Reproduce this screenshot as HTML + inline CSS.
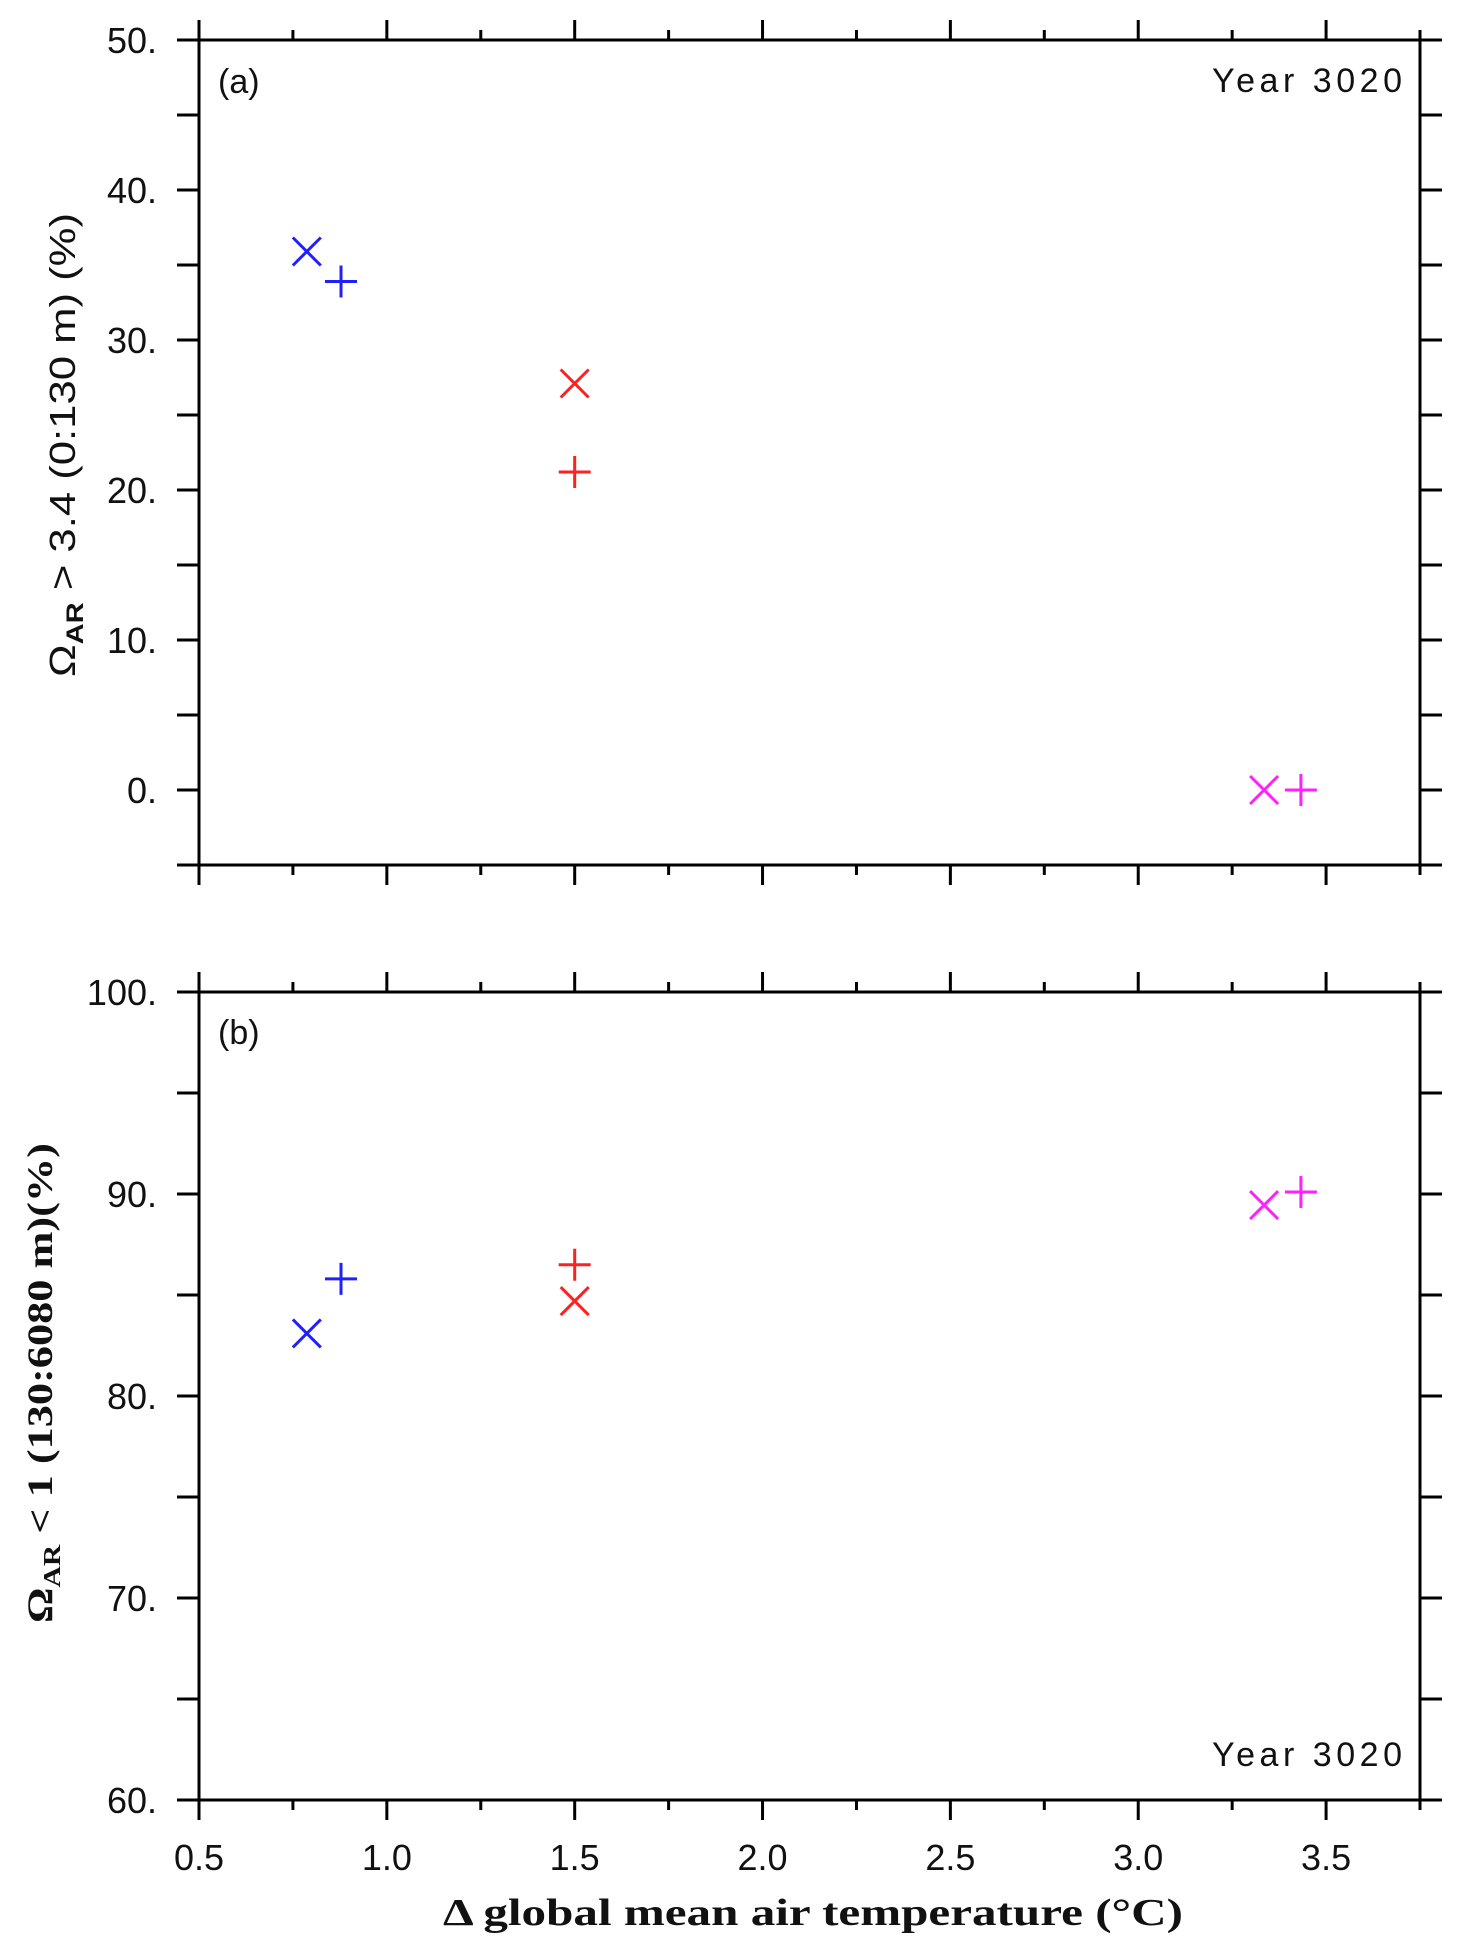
<!DOCTYPE html>
<html><head><meta charset="utf-8"><style>
html,body{margin:0;padding:0;background:#fff;}
svg{display:block;}
</style></head><body>
<svg id="chart" width="1461" height="1950" viewBox="0 0 1461 1950" xmlns="http://www.w3.org/2000/svg"></svg>
<script>
// Shared x data
const xTicks = [0.5,1.0,1.5,2.0,2.5,3.0,3.5];
const xTickLabels = ["0.5","1.0","1.5","2.0","2.5","3.0","3.5"];
// Panel a data
const aYTicks = [0,10,20,30,40,50];
const aYTickLabels = ["0.","10.","20.","30.","40.","50."];
const aCrossX = [0.787, 1.5, 3.335];
const aCrossY = [35.9, 27.1, 0.0];
const aPlusX = [0.878, 1.5, 3.433];
const aPlusY = [33.9, 21.2, 0.0];
// Panel b data
const bYTicks = [60,70,80,90,100];
const bYTickLabels = ["60.","70.","80.","90.","100."];
const bCrossX = [0.787, 1.5, 3.335];
const bCrossY = [83.1, 84.7, 89.45];
const bPlusX = [0.878, 1.5, 3.433];
const bPlusY = [85.8, 86.5, 90.1];
const seriesColors = ["#2020ff","#ff2020","#ff20ff"];

const svg = document.getElementById('chart');
const NS = "http://www.w3.org/2000/svg";
function mk(tag, attrs, parent){const e=document.createElementNS(NS,tag);for(const k in attrs)e.setAttribute(k,attrs[k]);(parent||svg).appendChild(e);return e;}

const X0=199, X1=1420, xmin=0.5, xmax=3.75;
function xs(v){return X0+(v-xmin)/(xmax-xmin)*(X1-X0);}

function panel(name, top, bottom, ymin, ymax, yTicks, yLabels, minorStep, cx, cy, px, py, showXLabels){
  const g = mk('g',{});
  
  
  const ys = v => bottom-(v-ymin)/(ymax-ymin)*(bottom-top);
  const frame = mk('rect',{x:X0,y:top,width:X1-X0,height:bottom-top,fill:'none',stroke:'#000','stroke-width':3},g);
  
  
  for(let v=ymin; v<=ymax+1e-9; v+=minorStep){
    const y=ys(v);
    const t1=mk('line',{x1:X0-22,x2:X0,y1:y,y2:y,stroke:'#000','stroke-width':3},g);
    
    
    const t2=mk('line',{x1:X1,x2:X1+22,y1:y,y2:y,stroke:'#000','stroke-width':3},g);
    
    
  }
  yTicks.forEach((v,i)=>{
    const t=mk('text',{x:157,y:ys(v)+13,'text-anchor':'end','font-family':'Liberation Sans, sans-serif','font-size':36,fill:'#111'},g);
    t.textContent=yLabels[i];
    
    
  });
  for(let v=0.5; v<=3.75+1e-9; v+=0.25){
    const major = Math.abs(v*2-Math.round(v*2))<1e-6;
    const L = major?20:10, x=xs(v);
    const t1=mk('line',{x1:x,x2:x,y1:top-L,y2:top,stroke:'#000','stroke-width':3},g);
    
    
    const t2=mk('line',{x1:x,x2:x,y1:bottom,y2:bottom+L,stroke:'#000','stroke-width':3},g);
    
    
  }
  if(showXLabels){
    xTicks.forEach((v,i)=>{
      const t=mk('text',{x:xs(v),y:bottom+70,'text-anchor':'middle','font-family':'Liberation Sans, sans-serif','font-size':36,fill:'#111'},g);
      t.textContent=xTickLabels[i];
      
      
    });
  }
  const s=14;
  cx.forEach((v,i)=>{
    const x=xs(v), y=ys(cy[i]);
    const m=mk('path',{d:`M${x-s},${y-s}L${x+s},${y+s}M${x-s},${y+s}L${x+s},${y-s}`,stroke:seriesColors[i],'stroke-width':3,fill:'none'},g);
    
    
  });
  px.forEach((v,i)=>{
    const x=xs(v), y=ys(py[i]);
    const m=mk('path',{d:`M${x-16},${y}L${x+16},${y}M${x},${y-16}L${x},${y+16}`,stroke:seriesColors[i],'stroke-width':3,fill:'none'},g);
    
    
  });
  return g;
}
panel('panel-a', 40, 865, -5, 50, aYTicks, aYTickLabels, 5, aCrossX, aCrossY, aPlusX, aPlusY, false);
panel('panel-b', 992, 1800, 60, 100, bYTicks, bYTickLabels, 5, bCrossX, bCrossY, bPlusX, bPlusY, true);
</script>
<svg style="position:absolute;left:0;top:0" width="1461" height="1950">
  <text x="218" y="93" font-family="Liberation Sans, sans-serif" font-size="34" fill="#111">(a)</text>
  <text x="1212" y="92" font-family="Liberation Sans, sans-serif" font-size="34" fill="#111" textLength="190" lengthAdjust="spacing">Year  3020</text>
  <text x="218" y="1044" font-family="Liberation Sans, sans-serif" font-size="34" fill="#111">(b)</text>
  <text x="1212" y="1766" font-family="Liberation Sans, sans-serif" font-size="34" fill="#111" textLength="190" lengthAdjust="spacing">Year  3020</text>
  <text transform="translate(75,445) rotate(-90)" text-anchor="middle" font-family="Liberation Sans, sans-serif" font-size="36" fill="#111" textLength="464" lengthAdjust="spacingAndGlyphs">Ω<tspan font-size="24" dy="8" font-weight="bold">AR</tspan><tspan dy="-8"> &gt; 3.4  (0:130 m)  (%)</tspan></text>
  <text transform="translate(52,1383) rotate(-90)" text-anchor="middle" font-family="Liberation Serif, serif" font-weight="bold" font-size="36" fill="#111" textLength="480" lengthAdjust="spacingAndGlyphs">Ω<tspan font-size="24" dy="8">AR</tspan><tspan dy="-8"> &lt; 1  (130:6080 m)(%)</tspan></text>
  <text x="443" y="1925" font-family="Liberation Serif, serif" font-weight="bold" font-size="38" fill="#111" textLength="740" lengthAdjust="spacingAndGlyphs">Δ global  mean  air  temperature  (°C)</text>
</svg>
</body></html>
